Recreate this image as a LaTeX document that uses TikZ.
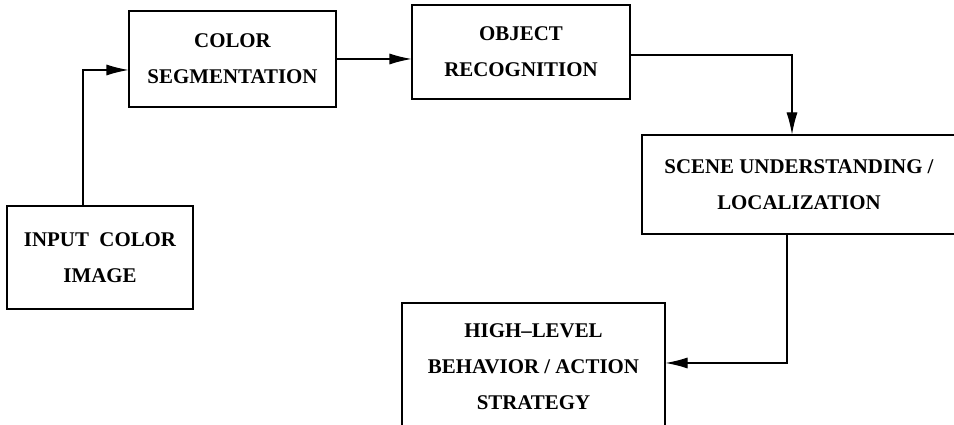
\documentclass[tikz,border=0pt]{standalone}
\usepackage{fontspec}
\setmainfont{Liberation Serif}
\usetikzlibrary{arrows.meta, positioning}

\begin{document}
\begin{tikzpicture}[
        stage/.style={draw, line width=0.6pt, align=center, inner sep=0pt,
            font=\fontsize{11.9}{20.4}\selectfont\bfseries},
        arr/.style={line width=0.6pt, -{Latex[length=4.4mm, width=2.2mm]}}
    ]
        \clip (0, 0) rectangle (19.08, 8.5);

        \node[stage, minimum width=3.72cm, minimum height=2.06cm] (input) at (2.0, 3.35) {INPUT\ \ COLOR\\IMAGE};
        \node[stage, minimum width=4.14cm, minimum height=1.92cm] (seg) at (4.65, 7.32) {COLOR\\SEGMENTATION};
        \node[stage, minimum width=4.36cm, minimum height=1.88cm] (recog) at (10.42, 7.46) {OBJECT\\RECOGNITION};
        \node[stage, minimum width=6.28cm, minimum height=1.98cm] (scene) at (15.98, 4.81) {SCENE UNDERSTANDING /\\LOCALIZATION};
        \node[stage, minimum width=5.26cm, minimum height=2.54cm] (action) at (10.67, 1.17) {HIGH--LEVEL\\BEHAVIOR / ACTION\\STRATEGY};

        \draw[arr] ([xshift=-0.34cm]input.north) |- ([yshift=-0.22cm]seg.west);
        \draw[arr] (seg.east) -- (seg.east -| recog.west);
        \draw[arr] ([yshift=-0.06cm]recog.east) -| ([xshift=-0.14cm]scene.north);
        \draw[arr] ([xshift=-0.24cm]scene.south) |- ([yshift=0.07cm]action.east);
    \end{tikzpicture}
\end{document}
